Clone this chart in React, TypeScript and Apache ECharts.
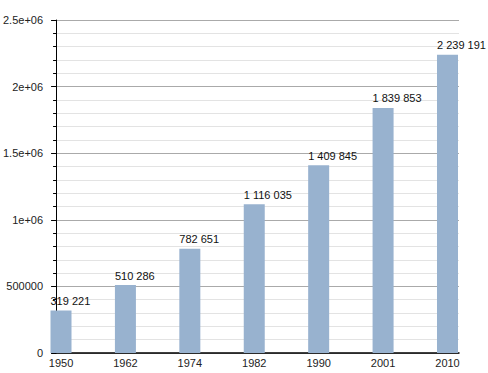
import React, { useEffect, useRef } from "react";
import * as echarts from "echarts";

const years = ["1950", "1962", "1974", "1982", "1990", "2001", "2010"];
const population = [319221, 510286, 782651, 1116035, 1409845, 1839853, 2239191];
const yTickLabels: Record<number, string> = {
  0: "0",
  500000: "500000",
  1000000: "1e+06",
  1500000: "1.5e+06",
  2000000: "2e+06",
  2500000: "2.5e+06",
};

const FONT = "Liberation Sans";
const BAR_W = 21;

function fmt(v: number): string {
  return String(v).replace(/\B(?=(\d{3})+(?!\d))/g, " ");
}

export default function App() {
  const ref = useRef<HTMLDivElement>(null);
  useEffect(() => {
    if (!ref.current) return;
    const chart = echarts.init(ref.current, null, { renderer: "svg" });
    chart.setOption({
      animation: false,
      backgroundColor: "#ffffff",
      grid: [
        { left: 50, right: 29, top: 20, bottom: 20, containLabel: false },
        { left: 28.8, right: 8.3, top: 20, bottom: 20, containLabel: false },
      ],
      xAxis: [
        {
          type: "category",
          gridIndex: 0,
          data: years,
          axisLine: { show: true, onZero: false, lineStyle: { color: "#000", width: 1.5 } },
          axisTick: { show: false },
          axisLabel: { show: false },
          splitLine: { show: false },
          splitArea: { show: false },
        },
        {
          type: "category",
          gridIndex: 1,
          data: years,
          boundaryGap: true,
          axisLine: { show: false },
          axisTick: { show: false },
          axisLabel: {
            color: "#222",
            fontFamily: FONT,
            fontSize: 11,
            margin: 4,
          },
          splitLine: { show: false },
          splitArea: { show: false },
        },
      ],
      yAxis: [
        {
          type: "value",
          gridIndex: 0,
          min: 0,
          max: 2500000,
          interval: 500000,
          axisLine: { show: true, lineStyle: { color: "#000", width: 1 } },
          axisTick: { show: true, length: 5, lineStyle: { color: "#000" } },
          minorTick: { show: true, splitNumber: 5, length: 3, lineStyle: { color: "#000" } },
          axisLabel: {
            color: "#222",
            fontFamily: FONT,
            fontSize: 11,
            margin: 13,
            formatter: (v: number) => yTickLabels[v] ?? String(v),
          },
          splitLine: { show: true, lineStyle: { color: "#aaaaaa", width: 1 } },
          minorSplitLine: { show: true, lineStyle: { color: "#e3e3e3", width: 1 } },
        },
        {
          type: "value",
          gridIndex: 1,
          min: 0,
          max: 2500000,
          interval: 500000,
          show: false,
          axisLine: { show: false },
          axisTick: { show: false },
          axisLabel: { show: false },
          splitLine: { show: false },
        },
      ],
      series: [
        {
          type: "bar",
          xAxisIndex: 1,
          yAxisIndex: 1,
          data: population,
          barWidth: BAR_W,
          itemStyle: { color: "#98b2cf" },
          label: {
            show: true,
            position: "top",
            align: "left",
            distance: 4,
            offset: [-BAR_W / 2, 0],
            color: "#111",
            fontFamily: FONT,
            fontSize: 11,
            formatter: (p: any) => fmt(p.value),
          },
        },
      ],
    });
    return () => chart.dispose();
  }, []);
  return (
    <div
      ref={ref}
      style={{ position: "fixed", left: 0, top: 0, width: 488, height: 373, background: "#fff" }}
    />
  );
}
